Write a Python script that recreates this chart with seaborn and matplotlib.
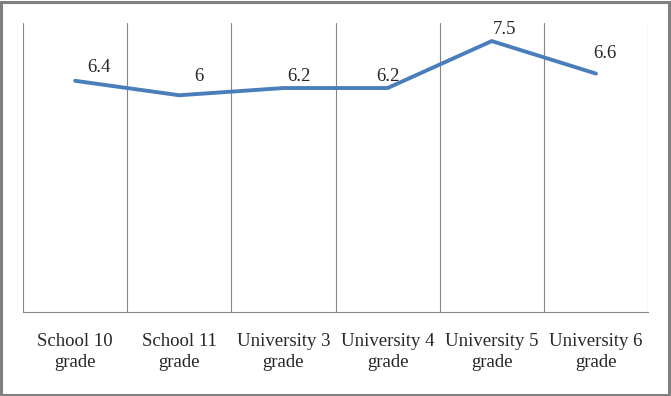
import numpy as np
import pandas as pd
import matplotlib.pyplot as plt
import seaborn as sns
from matplotlib.patches import Rectangle

# dados
categorias = ['School 10\ngrade', 'School 11\ngrade', 'University 3\ngrade',
              'University 4\ngrade', 'University 5\ngrade', 'University 6\ngrade']
valores = [6.4, 6.0, 6.2, 6.2, 7.5, 6.6]
rotulos = ['6.4', '6', '6.2', '6.2', '7.5', '6.6']

# deslocamento dos rótulos (pontos)
desloc = [(17, 9.5), (14, 13.5), (11.5, 8.5), (0, 8.5), (9, 8), (6.5, 14.5)]

df = pd.DataFrame({'categoria': categorias, 'valor': valores})

sns.set_style('white')
plt.rcParams['font.family'] = ['Liberation Serif', 'DejaVu Serif']

fig = plt.figure(figsize=(6.71, 3.96), dpi=100)
ax = fig.add_axes([0.0343, 0.2121, 0.9314, 0.7298])

sns.lineplot(x='categoria', y='valor', data=df, sort=False, color='#4a7ebb',
             linewidth=2.8, ax=ax)

for i, (v, r) in enumerate(zip(valores, rotulos)):
    ax.annotate(r, (i, v), xytext=desloc[i], textcoords='offset points',
                ha='center', va='center', fontsize=13.5)

ax.set_ylim(0, 8)
ax.set_xlim(-0.5, len(categorias) - 0.5)
ax.set_yticks([])
ax.set_xticks(range(len(categorias)))
ax.set_xticklabels(categorias, fontsize=13.5, linespacing=1.35)
ax.set_xticks(np.arange(-0.5, len(categorias)), minor=True)
ax.tick_params(axis='x', which='both', length=0, pad=15)
ax.grid(which='minor', axis='x', color='#868686', linewidth=0.8)
ax.set_xlabel('')
ax.set_ylabel('')
for lado in ['top', 'right', 'left']:
    ax.spines[lado].set_visible(False)
ax.spines['bottom'].set_color('#868686')
ax.spines['bottom'].set_linewidth(0.8)

# borda do gráfico
fig.patches.append(Rectangle((0.002, 0.003), 0.995, 0.993, transform=fig.transFigure,
                             fill=False, edgecolor='#808080', linewidth=2.2))

plt.savefig('out.png', dpi=100)
